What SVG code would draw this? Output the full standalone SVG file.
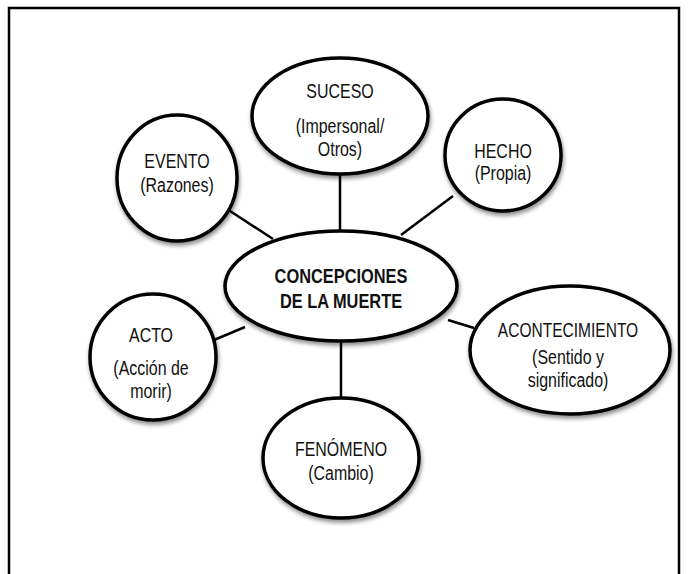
<svg xmlns="http://www.w3.org/2000/svg" width="688" height="574" viewBox="0 0 688 574">
  <defs>
    <filter id="sh" x="-20%" y="-20%" width="140%" height="140%">
      <feGaussianBlur in="SourceAlpha" stdDeviation="2"/>
      <feOffset dx="1" dy="3" result="b"/>
      <feComponentTransfer><feFuncA type="linear" slope="0.45"/></feComponentTransfer>
      <feMerge><feMergeNode/><feMergeNode in="SourceGraphic"/></feMerge>
    </filter>
  </defs>
  <style>
    .frame { fill: none; stroke: #000; stroke-width: 2.5; }
    .node { fill: #fff; stroke: #000; stroke-width: 3.5; filter: url(#sh); }
    .conn line { stroke: #000; stroke-width: 2.5; }
    text { font-family: "Liberation Sans", Arial, sans-serif; font-size: 21px; fill: #111; text-anchor: middle; }
    .c { font-weight: bold; font-size: 21px; }
  </style>
  <rect width="688" height="574" fill="#fff"/>
  <path class="frame" d="M9 574 V8 H679 V574"/>
  <g id="connectors" class="conn">
    <line x1="340" y1="174" x2="340" y2="233"/>
    <line x1="227" y1="209" x2="273" y2="239"/>
    <line x1="453" y1="196" x2="401" y2="235"/>
    <line x1="448" y1="320" x2="474" y2="328"/>
    <line x1="214" y1="340" x2="245" y2="327"/>
    <line x1="341" y1="340" x2="341" y2="399"/>
  </g>
  <g id="suceso">
    <ellipse class="node" cx="340" cy="116" rx="88" ry="58"/>
    <text transform="translate(340 98) scale(0.76 1)">SUCESO</text>
    <text transform="translate(340 133) scale(0.76 1)">(Impersonal/</text>
    <text transform="translate(340 156) scale(0.76 1)">Otros)</text>
  </g>
  <g id="evento">
    <ellipse class="node" cx="177" cy="178" rx="60" ry="63"/>
    <text transform="translate(177 168) scale(0.76 1)">EVENTO</text>
    <text transform="translate(177 192) scale(0.76 1)">(Razones)</text>
  </g>
  <g id="hecho">
    <ellipse class="node" cx="503" cy="155" rx="58" ry="56"/>
    <text transform="translate(503 158) scale(0.76 1)">HECHO</text>
    <text transform="translate(503 180) scale(0.76 1)">(Propia)</text>
  </g>
  <g id="central">
    <ellipse class="node" cx="341" cy="286" rx="116" ry="55"/>
    <text class="c" transform="translate(341 283) scale(0.78 1)">CONCEPCIONES</text>
    <text class="c" transform="translate(341 308) scale(0.78 1)">DE LA MUERTE</text>
  </g>
  <g id="acto">
    <ellipse class="node" cx="153" cy="357" rx="63" ry="63"/>
    <text transform="translate(151 342) scale(0.76 1)">ACTO</text>
    <text transform="translate(151 375) scale(0.76 1)">(Acción de</text>
    <text transform="translate(151 398) scale(0.76 1)">morir)</text>
  </g>
  <g id="acontecimiento">
    <ellipse class="node" cx="570" cy="350" rx="100" ry="64"/>
    <text transform="translate(568 337) scale(0.74 1)">ACONTECIMIENTO</text>
    <text transform="translate(568 364) scale(0.76 1)">(Sentido y</text>
    <text transform="translate(568 387) scale(0.76 1)">significado)</text>
  </g>
  <g id="fenomeno">
    <ellipse class="node" cx="341" cy="458" rx="78" ry="60"/>
    <text transform="translate(341 456) scale(0.76 1)">FENÓMENO</text>
    <text transform="translate(341 480) scale(0.76 1)">(Cambio)</text>
  </g>
</svg>
